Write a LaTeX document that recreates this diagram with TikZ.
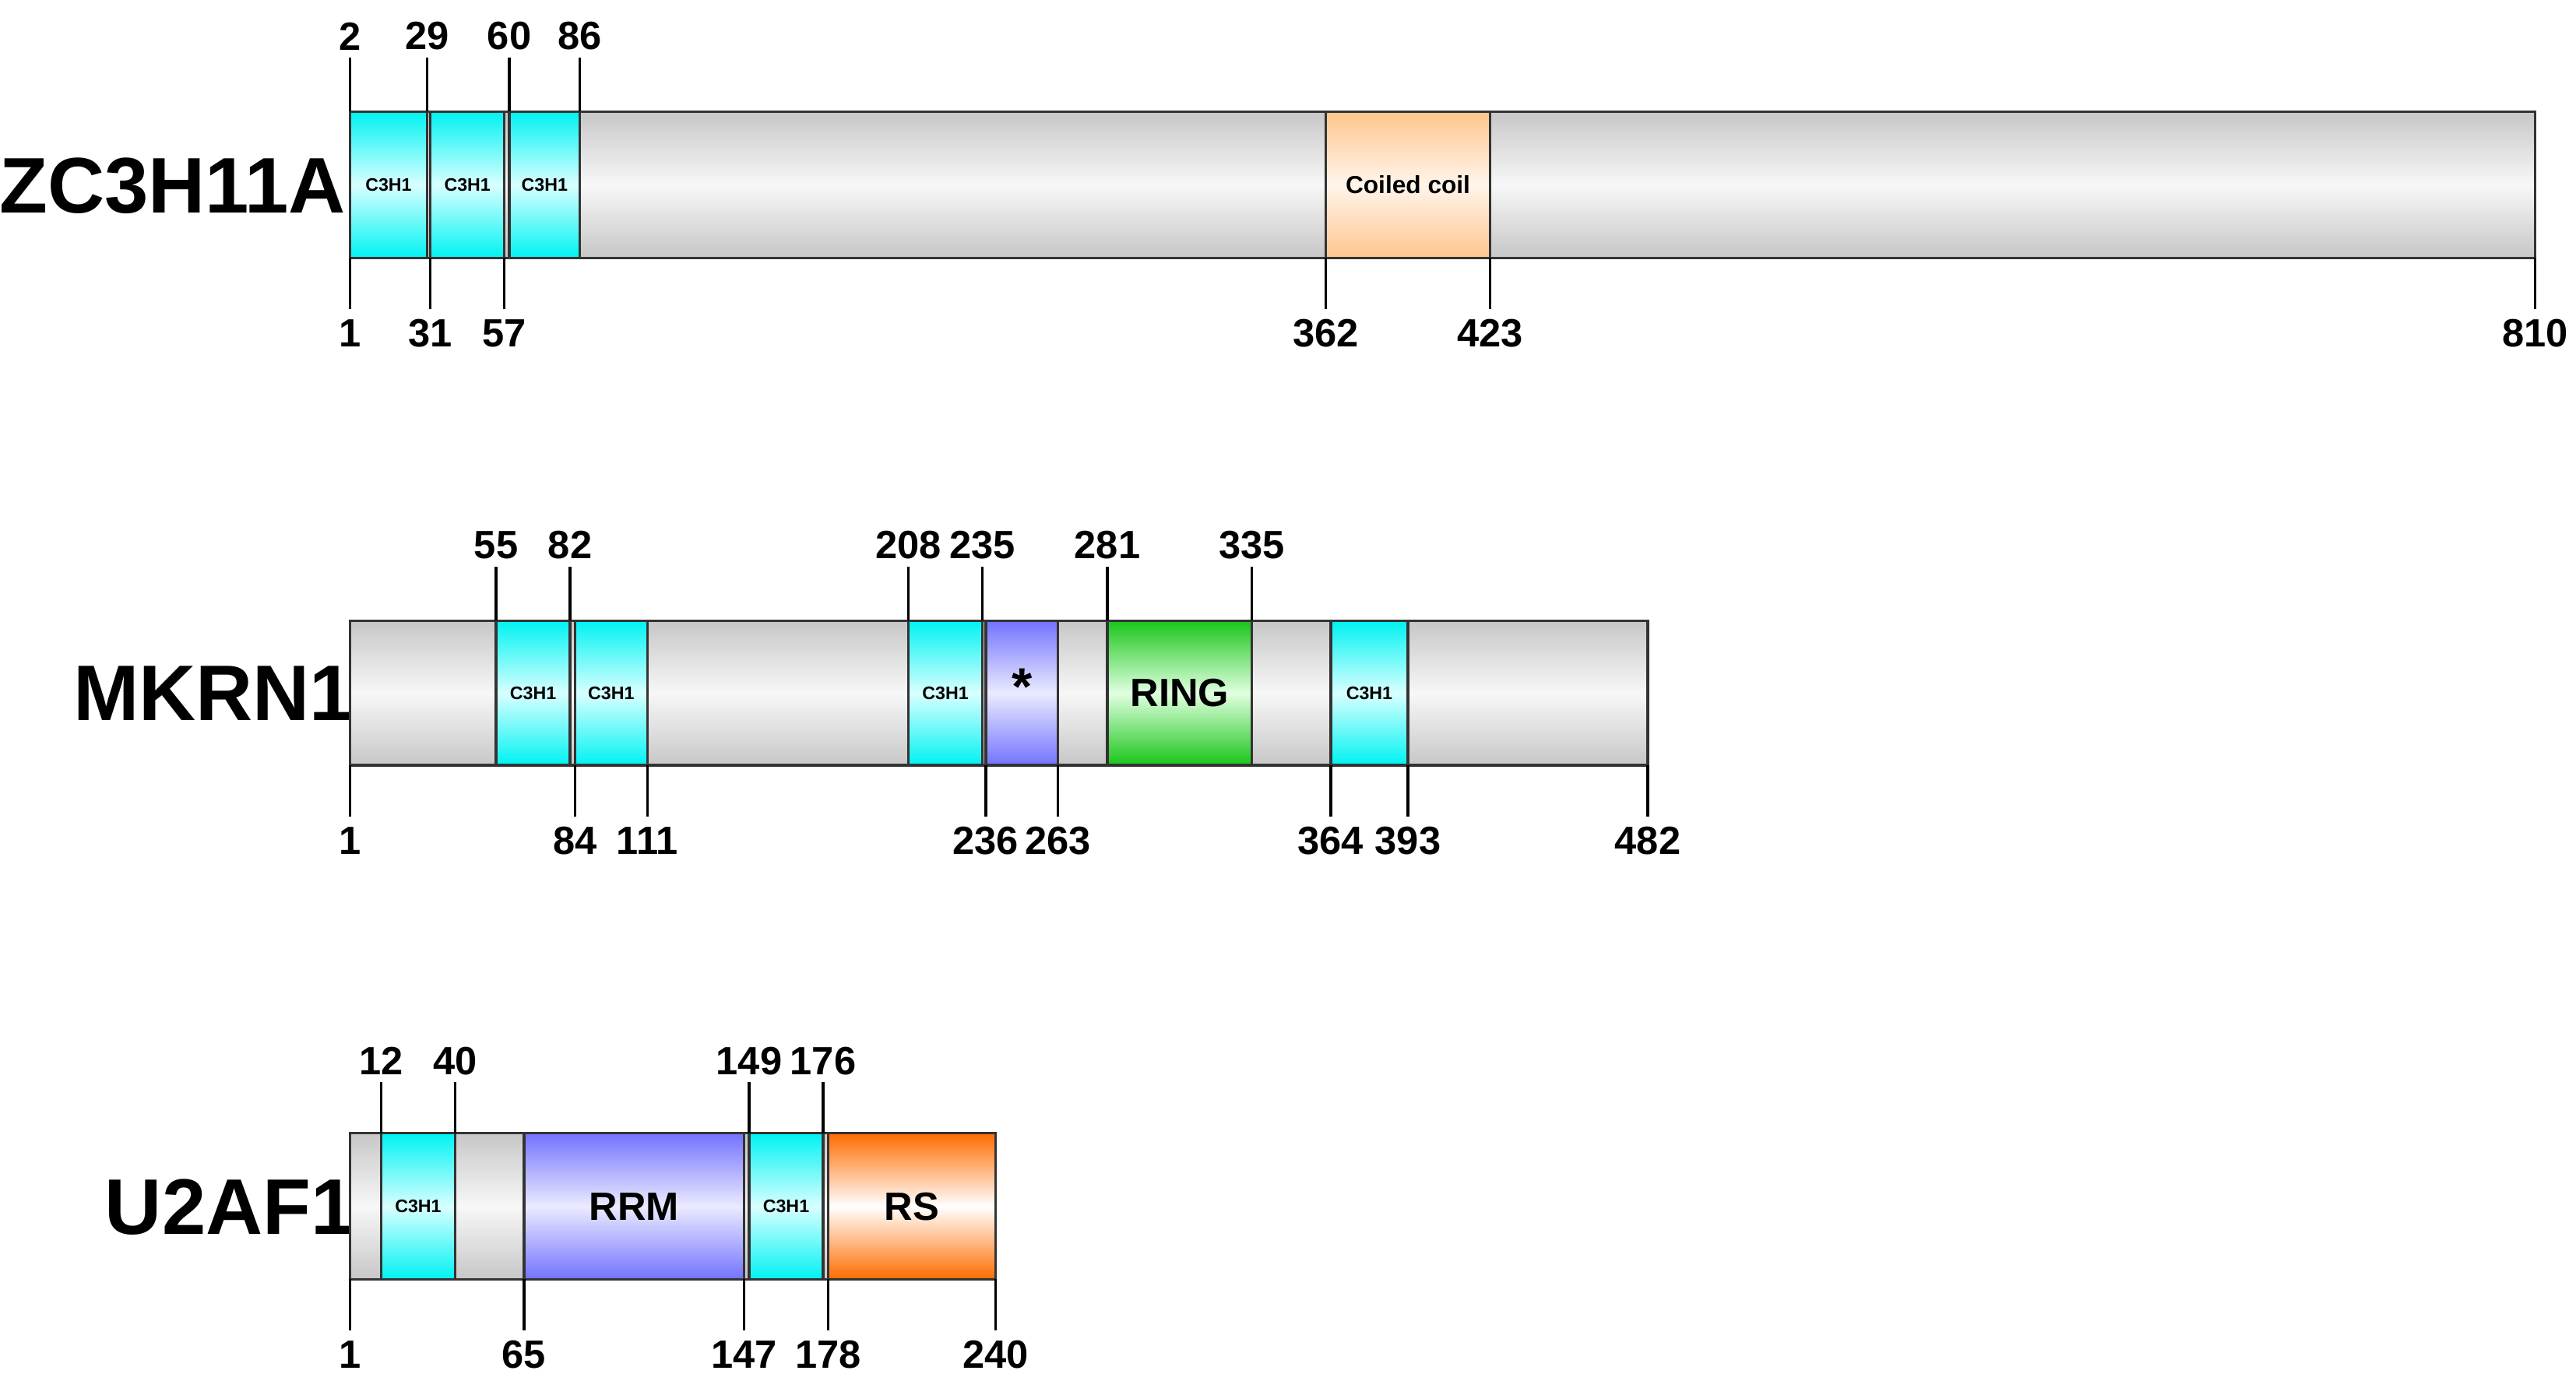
\documentclass[tikz,border=0pt]{standalone}
\usepackage{fontspec}
\setmainfont{Liberation Sans}
\begin{document}
\begin{tikzpicture}[x=0.5pt,y=-0.5pt,
  barline/.style={draw=black!80,line width=0.8pt},
  greyf/.style={top color=black!22,bottom color=black!22,middle color=black!3},
  cyanf/.style={top color=cyan!95!black,bottom color=cyan!95!black,middle color=cyan!15},
  coilf/.style={top color=orange!45,bottom color=orange!45,middle color=orange!8},
  bluef/.style={top color=blue!55!white,bottom color=blue!55!white,middle color=blue!8},
  greenf/.style={top color=green!75!black!90,bottom color=green!75!black!90,middle color=green!12},
  rsf/.style={top color=orange!85!red,bottom color=orange!85!red,middle color=white},
  numlbl/.style={font=\bfseries\fontsize{12}{12}\selectfont,inner sep=1pt},
  pname/.style={font=\bfseries\fontsize{24}{24}\selectfont},
  tickline/.style={line width=0.8pt}]
\useasboundingbox (0,0) rectangle (1568,845);
\newcommand\dom[6]{\fill[#5] (#1,#3) rectangle (#2,#4);\draw[barline] (#1,#3) rectangle (#2,#4);
  \node at ({(#1+#2)/2},{(#3+#4)/2}) {#6};}
\newcommand\tmark[5]{\draw[tickline] (#1,#2) -- (#1,#3); \node[numlbl] at (#1,#4) {#5};}
% ZC3H11A
\node[pname] (n1) at (105,113) {ZC3H11A};
\dom{213}{1543}{68}{157}{greyf}{}
\dom{213}{260}{68}{157}{cyanf}{\bfseries\fontsize{5.5}{6}\selectfont C3H1}
\dom{262}{307}{68}{157}{cyanf}{\bfseries\fontsize{5.5}{6}\selectfont C3H1}
\dom{310}{353}{68}{157}{cyanf}{\bfseries\fontsize{5.5}{6}\selectfont C3H1}
\dom{807}{907}{68}{157}{coilf}{\bfseries\fontsize{7.5}{8}\selectfont Coiled coil}
\tmark{213}{35}{68}{22}{2}\tmark{260}{35}{68}{22}{29}\tmark{310}{35}{68}{22}{60}\tmark{353}{35}{68}{22}{86}
\tmark{213}{157}{188}{203}{1}\tmark{262}{157}{188}{203}{31}\tmark{307}{157}{188}{203}{57}
\tmark{807}{157}{188}{203}{362}\tmark{907}{157}{188}{203}{423}\tmark{1543}{157}{188}{203}{810}
% MKRN1
\node[pname] (n2) at (130,422) {MKRN1};
\dom{213}{1003}{378}{466}{greyf}{}
\dom{302}{347}{378}{466}{cyanf}{\bfseries\fontsize{5.5}{6}\selectfont C3H1}
\dom{350}{394}{378}{466}{cyanf}{\bfseries\fontsize{5.5}{6}\selectfont C3H1}
\dom{553}{598}{378}{466}{cyanf}{\bfseries\fontsize{5.5}{6}\selectfont C3H1}
\dom{600}{644}{378}{466}{bluef}{\raisebox{4pt}{\bfseries\fontsize{16}{16}\selectfont *}}
\dom{674}{762}{378}{466}{greenf}{\bfseries\fontsize{12}{12}\selectfont RING}
\dom{810}{857}{378}{466}{cyanf}{\bfseries\fontsize{5.5}{6}\selectfont C3H1}
\tmark{302}{345}{378}{332}{55}\tmark{347}{345}{378}{332}{82}\tmark{553}{345}{378}{332}{208}
\tmark{598}{345}{378}{332}{235}\tmark{674}{345}{378}{332}{281}\tmark{762}{345}{378}{332}{335}
\tmark{213}{466}{497}{512}{1}\tmark{350}{466}{497}{512}{84}\tmark{394}{466}{497}{512}{111}
\tmark{600}{466}{497}{512}{236}\tmark{644}{466}{497}{512}{263}\tmark{810}{466}{497}{512}{364}
\tmark{857}{466}{497}{512}{393}\tmark{1003}{466}{497}{512}{482}
% U2AF1
\node[pname] (n3) at (140,735) {U2AF1};
\dom{213}{606}{690}{779}{greyf}{}
\dom{232}{277}{690}{779}{cyanf}{\bfseries\fontsize{5.5}{6}\selectfont C3H1}
\dom{319}{453}{690}{779}{bluef}{\bfseries\fontsize{12}{12}\selectfont RRM}
\dom{456}{501}{690}{779}{cyanf}{\bfseries\fontsize{5.5}{6}\selectfont C3H1}
\dom{504}{606}{690}{779}{rsf}{\bfseries\fontsize{12}{12}\selectfont RS}
\tmark{232}{659}{690}{646}{12}\tmark{277}{659}{690}{646}{40}\tmark{456}{659}{690}{646}{149}\tmark{501}{659}{690}{646}{176}
\tmark{213}{779}{810}{825}{1}\tmark{319}{779}{810}{825}{65}\tmark{453}{779}{810}{825}{147}
\tmark{504}{779}{810}{825}{178}\tmark{606}{779}{810}{825}{240}
\end{tikzpicture}
\end{document}
